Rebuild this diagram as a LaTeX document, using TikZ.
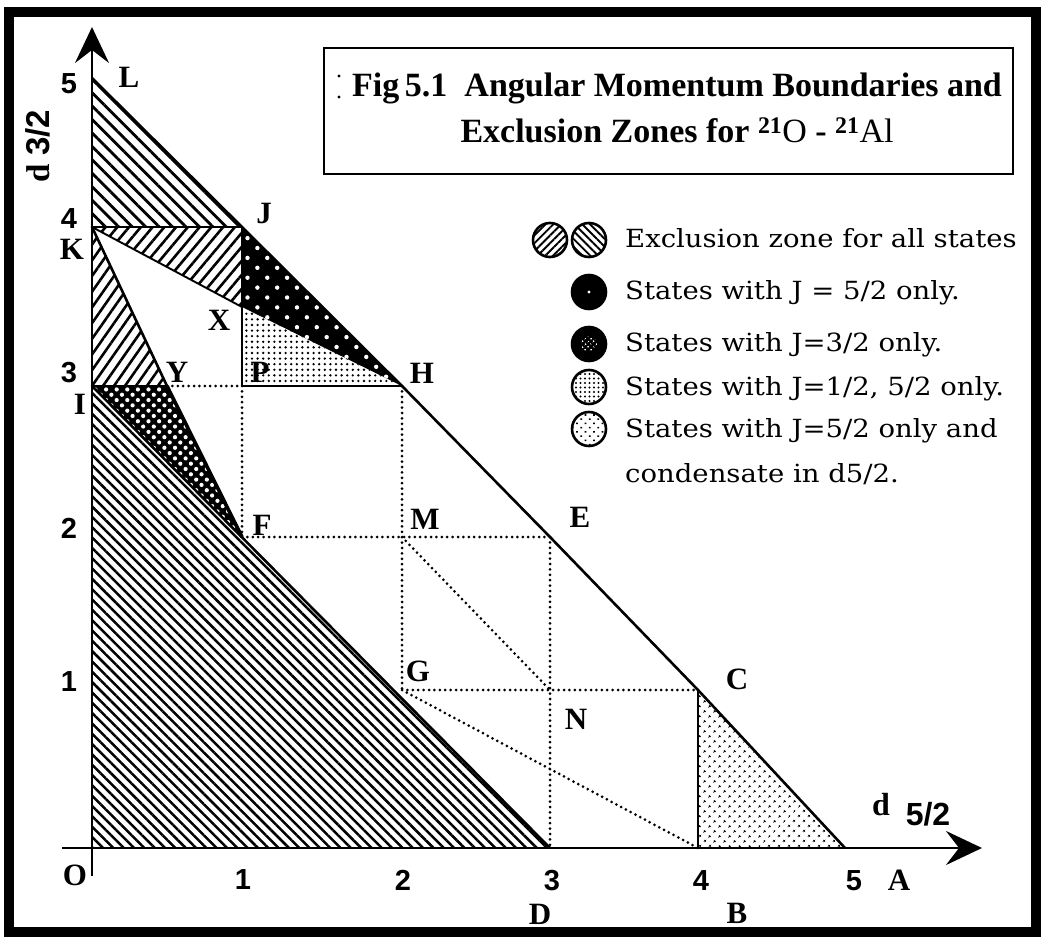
\documentclass[tikz,border=0pt]{standalone}
\usepackage{fontspec}
\setmainfont{Liberation Serif}
\newfontfamily\lblfont{Liberation Serif}
\newfontfamily\numfont{Liberation Sans}
\newfontfamily\legfont[FakeStretch=1.1]{DejaVu Serif}
\usetikzlibrary{patterns.meta,arrows.meta}
\begin{document}
\begin{tikzpicture}[x=1pt,y=1pt,
  bnd/.style={line width=2.6pt,line join=round,line cap=round},
  thinb/.style={line width=1.9pt},
  dotl/.style={line width=3pt,line cap=round,dash pattern=on 0pt off 5.4pt},
  lbl/.style={font=\lblfont\bfseries\fontsize{31}{31}\selectfont,inner sep=0pt},
  num/.style={font=\numfont\bfseries\fontsize{29}{29}\selectfont,inner sep=0pt},
  leg/.style={font=\legfont\fontsize{25}{25}\selectfont,inner sep=0pt,anchor=base west},
  icon/.style={circle,minimum size=34pt,inner sep=0pt,draw,line width=2.6pt},
  ax/.style={line width=2.6pt,-{Stealth[length=36pt,width=34pt,inset=13pt]}},
]
\useasboundingbox (0,0) rectangle (1044,-941);
\draw[line width=10pt] (9,-12) rectangle (1036,-932);

% points
\coordinate (O) at (92,-848);
\coordinate (I) at (92,-386);
\coordinate (K) at (92,-227);
\coordinate (L) at (92,-78);
\coordinate (J) at (242,-227);
\coordinate (X) at (242,-307);
\coordinate (P) at (242,-386);
\coordinate (Y) at (167,-386);
\coordinate (F) at (242,-537);
\coordinate (H) at (402,-386);
\coordinate (M) at (402,-537);
\coordinate (G) at (402,-690);
\coordinate (E) at (550,-537);
\coordinate (N) at (550,-690);
\coordinate (D) at (550,-848);
\coordinate (C) at (698,-690);
\coordinate (B) at (698,-848);
\coordinate (A) at (845,-848);
\coordinate (ybot) at (92,-876);
\coordinate (ytop) at (92,-27);
\coordinate (xleft) at (62,-848);
\coordinate (xright) at (982,-848);

% regions
\fill[pattern={Lines[angle=-45,distance=9.5pt,line width=2.8pt]}] (L)--(K)--(J)--cycle;
\fill[pattern={Lines[angle=50,distance=9pt,line width=2.6pt]}] (K)--(J)--(X)--cycle;
\fill[pattern={Lines[angle=55,distance=9pt,line width=2.6pt]}] (K)--(I)--(Y)--cycle;
\fill[pattern={Lines[angle=-45,distance=7.3pt,line width=2.5pt]}] (O)--(I)--(D)--cycle;
\fill (J)--(H)--(X)--cycle;
\fill[pattern={Dots[angle=45,distance=14pt,radius=2.2pt]},pattern color=white] (J)--(H)--(X)--cycle;
\fill[pattern={Dots[distance=5.6pt,radius=1.3pt]}] (X)--(P)--(H)--cycle;
\fill (I)--(Y)--(F)--cycle;
\fill[pattern={Dots[angle=45,distance=7.5pt,radius=2.1pt]},pattern color=white] (I)--(Y)--(F)--cycle;
\fill[pattern={Dots[angle=45,distance=7.4pt,radius=1.5pt]}] (B)--(C)--(A)--cycle;

% dotted construction lines
\draw[dotl] (Y)--(P) (P)--(F) (F)--(M)--(E) (H)--(M)--(G) (G)--(N)--(C) (E)--(N)--(D) (M)--(N) (G)--(B);

% boundaries
\draw[bnd] (L)--(J)--(H)--(E)--(C)--(A);
\draw[bnd] (K)--(J)--(X)--(P)--(H);
\draw[thinb] (K)--(X);
\draw[bnd] (K)--(Y);
\draw[bnd] (I)--(Y);
\draw[line width=3.6pt] (Y)--(F);
\draw[bnd] (I)--(D);
\draw[bnd] (C)--(B);

% axes
\draw[ax] (ybot)--(ytop);
\draw[ax] (xleft)--(xright);

% axis numbers
\node[num] (n5) at (69,-84) {5};
\node[num] (n4) at (69,-219) {4};
\node[num] (n3) at (69,-373) {3};
\node[num] (n2) at (69,-528) {2};
\node[num] (n1) at (69,-682) {1};
\node[num] (m1) at (243,-880) {1};
\node[num] (m2) at (403,-880) {2};
\node[num] (m3) at (552,-881) {3};
\node[num] (m4) at (701,-881) {4};
\node[num] (m5) at (854,-881) {5};

% point labels
\node[lbl] (lL) at (129,-77) {L};
\node[lbl] (lK) at (72,-249) {K};
\node[lbl] (lJ) at (264,-214) {J};
\node[lbl] (lX) at (219,-320) {X};
\node[lbl] (lI) at (80,-404) {I};
\node[lbl] (lY) at (177,-372) {Y};
\node[lbl] (lP) at (260,-372) {P};
\node[lbl] (lH) at (422,-373) {H};
\node[lbl] (lF) at (262,-525) {F};
\node[lbl] (lM) at (425,-519) {M};
\node[lbl] (lE) at (580,-517) {E};
\node[lbl] (lG) at (418,-671) {G};
\node[lbl] (lC) at (737,-679) {C};
\node[lbl] (lN) at (576,-719) {N};
\node[lbl] (lO) at (75,-875) {O};
\node[lbl] (lA) at (899,-880) {A};
\node[lbl] (lD) at (540,-914) {D};
\node[lbl] (lB) at (737,-913) {B};

% axis titles
\node[rotate=90,inner sep=0pt] (ylab) at (38,-146) {{\lblfont\bfseries\fontsize{33}{33}\selectfont d}\hspace{8pt}{\numfont\bfseries\fontsize{33}{33}\selectfont 3/2}};
\node[inner sep=0pt,font=\lblfont\bfseries\fontsize{32}{32}\selectfont] (xd) at (881,-805) {d};
\node[inner sep=0pt,font=\numfont\bfseries\fontsize{32}{32}\selectfont] (x52) at (928,-814) {5/2};

% title box
\node[draw,line width=2.2pt,minimum width=689pt,minimum height=126pt,anchor=north west,inner sep=0pt] (tbox) at (323,-47) {};
\fill (339,-76) circle (1.6pt) (339,-97) circle (1.6pt);
\node[inner sep=0pt,font=\lblfont\bfseries\fontsize{34}{34}\selectfont,anchor=base] (t1) at (677,-97) {Fig\,5.1\enspace Angular Momentum Boundaries and};
\node[inner sep=0pt,font=\lblfont\bfseries\fontsize{34}{34}\selectfont,anchor=base] (t2) at (677,-143) {Exclusion Zones for \textsuperscript{21}{\mdseries O} - \textsuperscript{21}{\mdseries Al}};

% legend
\node[icon,pattern={Lines[angle=45,distance=5.5pt,line width=1.9pt]}] (i1a) at (550,-240) {};
\node[icon,pattern={Lines[angle=-45,distance=5.5pt,line width=1.9pt]}] (i1b) at (589,-240) {};
\node[icon,fill=black,path picture={\fill[white] (path picture bounding box.center) circle (1.6pt);}] (i2) at (589,-292) {};
\node[icon,fill=black,path picture={\fill[pattern={Dots[angle=45,distance=4pt,radius=1pt]},pattern color=white] (path picture bounding box.center) circle (8pt);}] (i3) at (589,-344) {};
\node[icon,pattern={Dots[distance=4.5pt,radius=1.1pt]}] (i4) at (589,-387) {};
\node[icon,pattern={Dots[angle=45,distance=6pt,radius=1.2pt]}] (i5) at (589,-429) {};

\node[leg] (g1) at (625,-248) {Exclusion zone for all states};
\node[leg] (g2) at (625,-300) {States with J = 5/2 only.};
\node[leg] (g3) at (625,-352) {States with J=3/2 only.};
\node[leg] (g4) at (625,-395) {States with J=1/2, 5/2 only.};
\node[leg] (g5) at (625,-437) {States with J=5/2 only and};
\node[leg] (g6) at (625,-482) {condensate in d5/2.};
\end{tikzpicture}
\end{document}
